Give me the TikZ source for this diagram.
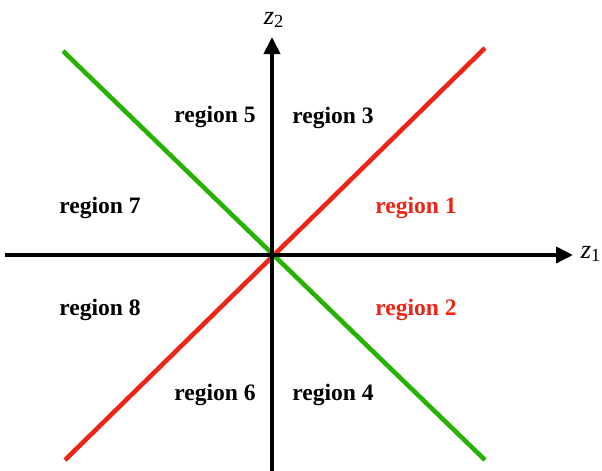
\documentclass[tikz,border=0pt]{standalone}
\usepackage{fontspec}
\setmainfont{Liberation Serif}
\usetikzlibrary{arrows.meta}
\definecolor{lnred}{RGB}{236,38,22}
\definecolor{lngreen}{RGB}{38,178,0}
\tikzset{
  axis/.style={-{Triangle[length=3.4mm,width=3.2mm]},line width=2.2pt},
  divline/.style={line width=2.6pt},
  reglbl/.style={font=\fontsize{13.4}{16}\selectfont\bfseries},
  axlbl/.style={font=\fontsize{15}{18}\selectfont\itshape,inner sep=0pt},
}
\begin{document}
\begin{tikzpicture}
  \useasboundingbox (-5.44,-4.3) rectangle (6.6,5.1);
  % end points of the two dividing lines and the axes
  \coordinate (rA) at (-4.14,-4.1);
  \coordinate (rB) at (4.26,4.14);
  \coordinate (gA) at (-4.18,4.08);
  \coordinate (gB) at (4.26,-4.1);
  \coordinate (xA) at (-5.34,0);
  \coordinate (xB) at (6.02,0);
  \coordinate (yA) at (0,-4.35);
  \coordinate (yB) at (0,4.36);
  \draw[divline,lnred] (rA) -- (rB);
  \draw[divline,lngreen] (gA) -- (gB);
  \draw[axis] (xA) -- (xB);
  \draw[axis] (yA) -- (yB);
  \node[axlbl] (z1) at (6.38,0.02) {z\textsubscript{\normalfont 1}};
  \node[axlbl] (z2) at (0.04,4.7) {z\textsubscript{\normalfont 2}};
  % region labels
  \node[reglbl] (r5) at (-1.14,2.77) {region 5};
  \node[reglbl] (r3) at (1.22,2.74) {region 3};
  \node[reglbl] (r7) at (-3.44,0.95) {region 7};
  \node[reglbl,text=lnred] (r1) at (2.88,0.95) {region 1};
  \node[reglbl] (r8) at (-3.44,-1.1) {region 8};
  \node[reglbl,text=lnred] (r2) at (2.88,-1.1) {region 2};
  \node[reglbl] (r6) at (-1.14,-2.8) {region 6};
  \node[reglbl] (r4) at (1.22,-2.8) {region 4};
\end{tikzpicture}
\end{document}
